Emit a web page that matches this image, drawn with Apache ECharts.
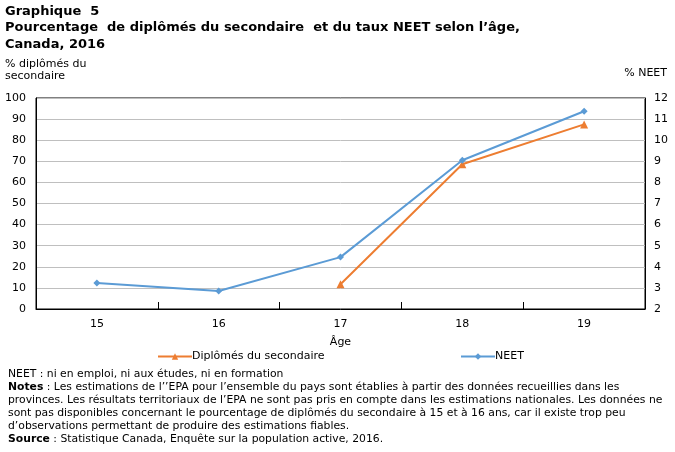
<!DOCTYPE html>
<html lang="fr">
<head>
<meta charset="UTF-8">
<title>Graphique 5</title>
<script src="https://cdn.jsdelivr.net/npm/echarts@6/dist/echarts.min.js"></script>
<style>
  html, body { margin: 0; padding: 0; background: #fff; }
  #chart { width: 675px; height: 452px; }
</style>
</head>
<body>
<div id="chart"></div>
<script>
var ages = ['15', '16', '17', '18', '19'];
var diplomes = [null, null, 11.7, 68.6, 87.5];
var neet = [3.23, 2.85, 4.46, 9.05, 11.37];
var leftTicks = { min: 0, max: 100, step: 10 };
var rightTicks = { min: 2, max: 12, step: 1 };

var orange = '#ED7D31';
var blue = '#5B9BD5';
var font = 'DejaVu Sans';
var noteFont = 'DejaVu Sans';

var notes = [
  { y: 376, rich: 'NEET : ni en emploi, ni aux études, ni en formation' },
  { y: 389, bold: 'Notes', rich: ' : Les estimations de l’’EPA pour l’ensemble du pays sont établies à partir des données recueillies dans les' },
  { y: 402, rich: 'provinces. Les résultats territoriaux de l’EPA ne sont pas pris en compte dans les estimations nationales. Les données ne' },
  { y: 415, rich: 'sont pas disponibles concernant le pourcentage de diplômés du secondaire à 15 et à 16 ans, car il existe trop peu' },
  { y: 428, rich: 'd’observations permettant de produire des estimations fiables.' },
  { y: 441, bold: 'Source', rich: ' : Statistique Canada, Enquête sur la population active, 2016.' }
];

var chart = echarts.init(document.getElementById('chart'));

var graphics = [
  { type: 'text', left: 5, top: 5, style: { text: 'Graphique  5', font: 'bold 13px ' + font, fill: '#000' } },
  { type: 'text', left: 5, top: 21, style: { text: 'Pourcentage  de diplômés du secondaire  et du taux NEET selon l’âge,', font: 'bold 13px ' + font, fill: '#000' } },
  { type: 'text', left: 5, top: 38, style: { text: 'Canada, 2016', font: 'bold 13px ' + font, fill: '#000' } },
  { type: 'text', left: 5, top: 58, style: { text: '% diplômés du\nsecondaire', font: '11px ' + noteFont, lineHeight: 12, fill: '#000' } },
  { type: 'text', right: 8, top: 68, style: { text: '% NEET', font: '11px ' + noteFont, fill: '#000' } }
];
notes.forEach(function (n) {
  graphics.push({
    type: 'text', left: 8, top: n.y - 7,
    style: {
      text: (n.bold ? '{b|' + n.bold + '}' : '') + '{n|' + n.rich + '}',
      rich: {
        b: { font: 'bold 10.8px ' + noteFont, fill: '#000' },
        n: { font: '10.8px ' + noteFont, fill: '#000' }
      }
    }
  });
});

chart.setOption({
  animation: false,
  textStyle: { fontFamily: font },
  grid: { left: 36, right: 30, top: 98, bottom: 143, show: true, borderColor: '#000', borderWidth: 1 },
  legend: [
    { data: [{ name: 'Diplômés du secondaire' }], left: 152, top: 346, itemWidth: 34, itemHeight: 8,
      textStyle: { fontFamily: noteFont, fontSize: 11, color: '#000', padding: [0, 0, 0, -5] } },
    { data: [{ name: 'NEET' }], left: 455, top: 346, itemWidth: 34, itemHeight: 8,
      textStyle: { fontFamily: noteFont, fontSize: 11, color: '#000', padding: [0, 0, 0, -5] } }
  ],
  graphic: graphics,
  xAxis: {
    type: 'category',
    data: ages,
    boundaryGap: true,
    name: 'Âge',
    nameLocation: 'middle',
    nameGap: 28,
    nameTextStyle: { fontFamily: noteFont, fontSize: 11, color: '#000' },
    axisLine: { lineStyle: { color: '#000' } },
    axisTick: { show: true, inside: true, length: 7, lineStyle: { color: '#000' } },
    axisLabel: { color: '#000', fontSize: 11, margin: 10 }
  },
  yAxis: [
    {
      type: 'value', min: leftTicks.min, max: leftTicks.max, interval: leftTicks.step,
      axisLine: { show: true, lineStyle: { color: '#000' } },
      axisTick: { show: false },
      axisLabel: { color: '#000', fontSize: 11, margin: 10 },
      splitLine: { lineStyle: { color: '#BFBFBF', width: 1 } }
    },
    {
      type: 'value', min: rightTicks.min, max: rightTicks.max, interval: rightTicks.step,
      axisLine: { show: true, lineStyle: { color: '#000' } },
      axisTick: { show: false },
      axisLabel: { color: '#000', fontSize: 11, margin: 9 },
      splitLine: { show: false }
    }
  ],
  series: [
    {
      name: 'Diplômés du secondaire', type: 'line', yAxisIndex: 0, data: diplomes,
      symbol: 'triangle', symbolSize: 8, color: orange,
      lineStyle: { width: 2, color: orange }, itemStyle: { color: orange }
    },
    {
      name: 'NEET', type: 'line', yAxisIndex: 1, data: neet,
      symbol: 'diamond', symbolSize: 7, color: blue,
      lineStyle: { width: 2, color: blue }, itemStyle: { color: blue }
    }
  ]
});
</script>
</body>
</html>
